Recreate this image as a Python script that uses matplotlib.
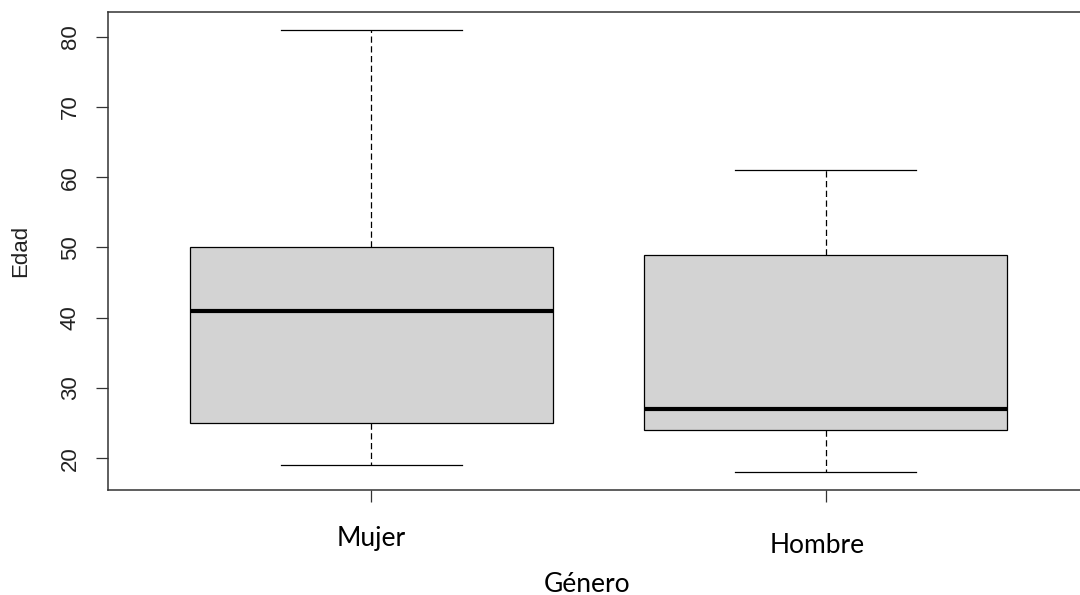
import matplotlib
matplotlib.use("Agg")
import matplotlib.pyplot as plt
from matplotlib.transforms import ScaledTranslation

categorias = ['Mujer', 'Hombre']
minimo = [19, 18]
q1 = [25, 24]
mediana = [41, 27]
q3 = [50, 49]
maximo = [81, 61]

stats = []
for i in range(len(categorias)):
    stats.append(dict(label=categorias[i], whislo=minimo[i], q1=q1[i],
                      med=mediana[i], q3=q3[i], whishi=maximo[i], fliers=[]))

fig = plt.figure(figsize=(10.8, 5.95), dpi=100)
ax = fig.add_axes([108/1080, 1 - 490/595, (1089 - 108)/1080, (490 - 12)/595])

pos = [1, 2]
ax.bxp(stats, positions=pos, widths=0.8, patch_artist=True,
       boxprops=dict(facecolor='#d3d3d3', edgecolor='black', linewidth=0.9),
       medianprops=dict(color='black', linewidth=3.0, solid_capstyle='butt'),
       whiskerprops=dict(color='black', linewidth=0.9, linestyle=(0, (5, 2.8))),
       capprops=dict(color='black', linewidth=0.9), capwidths=0.4)

ax.set_xlim(0.42, 2.58)
ax.set_ylim(15.48, 83.52)

yt = [20, 30, 40, 50, 60, 70, 80]
ax.set_yticks(yt)
ax.set_yticklabels([str(v) for v in yt], rotation=90, va='center',
                   fontfamily='Liberation Sans', fontsize=16, color='#222222')
ax.tick_params(axis='y', length=8.6, width=0.9, pad=11, colors='#333333', labelcolor='#222222')

ax.set_xticks(pos)
ax.set_xticklabels(categorias, fontfamily='Lato', fontsize=19)
ax.tick_params(axis='x', length=8.6, width=0.9, colors='#333333', labelcolor='black')
ticks = ax.xaxis.get_major_ticks()
ticks[0].set_pad(17.5)
ticks[1].set_pad(22.5)
# la etiqueta "Hombre" esta algo desplazada a la izquierda en el original
lab = ticks[1].label1
lab.set_transform(lab.get_transform() + ScaledTranslation(-8/100, 0, fig.dpi_scale_trans))

for s in ax.spines.values():
    s.set_color('#333333')
    s.set_linewidth(1.1)

fig.text(21/1080, 1 - 251/595, 'Edad', rotation=90, ha='center', va='center',
         fontfamily='Liberation Sans', fontsize=16, color='#222222')
fig.text(587/1080, 1 - 592/595, 'Género', ha='center', va='baseline',
         fontfamily='Lato', fontsize=19)

fig.savefig('out.png', dpi=100)
